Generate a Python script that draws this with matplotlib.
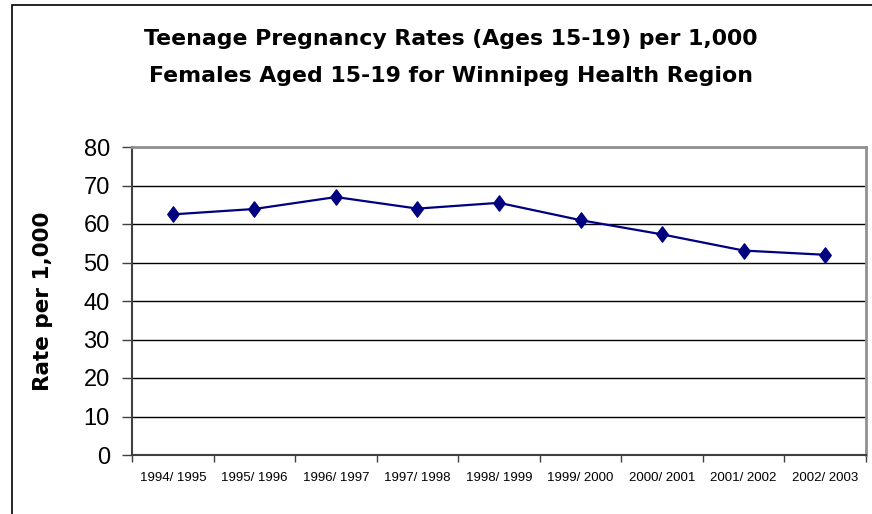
import matplotlib
matplotlib.use("Agg")
import matplotlib.pyplot as plt
from matplotlib.patches import Rectangle
from matplotlib.path import Path

# -------------------------------
# Data
# -------------------------------
years = ["1994/ 1995", "1995/ 1996", "1996/ 1997", "1997/ 1998", "1998/ 1999",
         "1999/ 2000", "2000/ 2001", "2001/ 2002", "2002/ 2003"]
rates = [62.5, 63.9, 67.0, 64.0, 65.5, 61.0, 57.3, 53.1, 52.0]
y_ticks = [0, 10, 20, 30, 40, 50, 60, 70, 80]

plt.rcParams["font.family"] = ["Liberation Sans", "DejaVu Sans"]

fig = plt.figure(figsize=(8.72, 5.14), dpi=100)
fig.patch.set_facecolor("white")

# outer chart border (only left and top visible in the reference)
fig.patches.append(Rectangle((12 / 872, -0.1), 1.2, 1 - 5 / 514 + 0.1,
                             transform=fig.transFigure, fill=False,
                             edgecolor="black", linewidth=1.2))

ax = fig.add_axes([132 / 872, 1 - 455 / 514, 734 / 872, 308 / 514])

# slightly tall diamond like the Excel marker
diamond = Path([(0, 1), (0.75, 0), (0, -1), (-0.75, 0), (0, 1)],
               [Path.MOVETO, Path.LINETO, Path.LINETO, Path.LINETO, Path.CLOSEPOLY])

x = list(range(len(years)))
ax.plot(x, rates, color="#000080", linewidth=1.6, marker=diamond,
        markersize=11, markerfacecolor="#000080", markeredgecolor="#000080",
        zorder=3)

ax.set_xlim(-0.5, len(years) - 0.5)
ax.set_ylim(0, 80)
ax.set_yticks(y_ticks)
ax.set_yticklabels([str(v) for v in y_ticks], fontsize=17)
ax.grid(axis="y", color="black", linewidth=1.0)
ax.set_axisbelow(True)

# category labels at centres, tick marks at boundaries
ax.set_xticks(x)
ax.set_xticklabels(years, fontsize=9.5)
ax.tick_params(axis="x", length=0, pad=12.5)
ax.set_xticks([i - 0.5 for i in range(len(years) + 1)], minor=True)
ax.tick_params(axis="x", which="minor", length=5, width=1, color="#404040")
ax.tick_params(axis="y", length=7, width=1, color="#404040", pad=9)

for side in ["top", "right"]:
    ax.spines[side].set_color("#909090")
    ax.spines[side].set_linewidth(2)
for side in ["left", "bottom"]:
    ax.spines[side].set_color("#404040")
    ax.spines[side].set_linewidth(1.5)

ax.set_ylabel("Rate per 1,000", family="DejaVu Sans", fontsize=15.5,
              fontweight="bold", labelpad=22)

fig.text(451 / 872, 1 - 45 / 514, "Teenage Pregnancy Rates (Ages 15-19) per 1,000",
         ha="center", va="baseline", family="DejaVu Sans", fontsize=15.8,
         fontweight="bold")
fig.text(451 / 872, 1 - 82 / 514, "Females Aged 15-19 for Winnipeg Health Region",
         ha="center", va="baseline", family="DejaVu Sans", fontsize=15.8,
         fontweight="bold")

fig.savefig("out.png", dpi=100)
